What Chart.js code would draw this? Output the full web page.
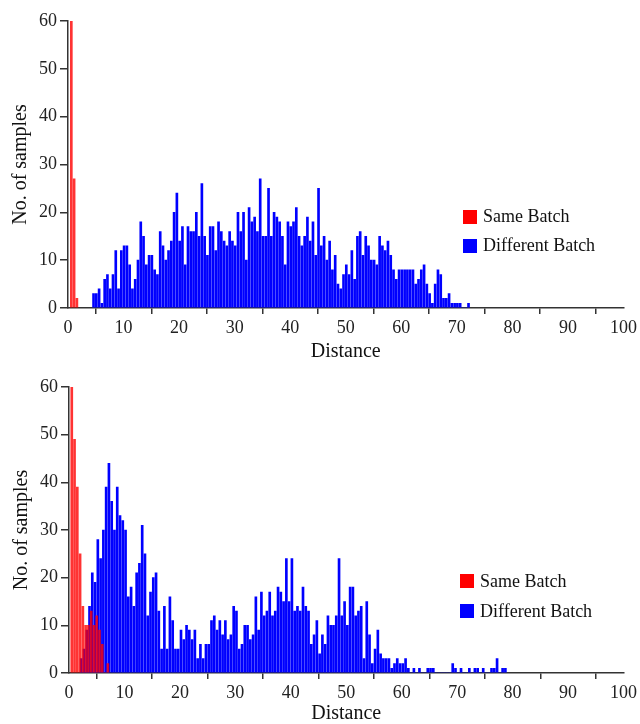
<!DOCTYPE html>
<html>
<head>
<meta charset="utf-8">
<script src="https://cdn.jsdelivr.net/npm/chart.js@4.4.0/dist/chart.umd.min.js"></script>
<style>
  body { margin: 0; background: #fff; }
  .panel { position: absolute; left: 0; width: 640px; height: 362px; }
  .legend { position: absolute; font-family: "Liberation Serif", "Times New Roman", serif; font-size: 18px; color: #111; }
  .legend div { height: 29px; display: flex; align-items: center; white-space: nowrap; }
  .legend .box { display: inline-block; width: 14px; height: 14px; margin-right: 6px; }
</style>
</head>
<body>
<div class="panel" style="top:0"><canvas id="topChart" width="640" height="362"></canvas></div>
<div class="panel" style="top:362px"><canvas id="bottomChart" width="640" height="362"></canvas></div>

<div class="legend" style="left:463px; top:202px">
  <div><span class="box" style="background:#ff0000"></span>Same Batch</div>
  <div><span class="box" style="background:#0000ff"></span>Different Batch</div>
</div>
<div class="legend" style="left:460px; top:566px">
  <div style="height:30px"><span class="box" style="background:#ff0000"></span>Same Batch</div>
  <div style="height:30px"><span class="box" style="background:#0000ff"></span>Different Batch</div>
</div>

<script>
// histogram bins are 0.5 wide
const binStep = 0.5;

// top panel
const topRedStart = 0.6;
const topRed = [60, 27, 2];
const topBlueStart = 4.6;
const topBlue = [
  3, 3, 4, 1, 6, 7, 4, 7, 12, 4,
  12, 13, 13, 9, 4, 6, 10, 18, 15, 9,
  11, 11, 8, 7, 16, 13, 10, 12, 14, 20,
  24, 14, 17, 9, 17, 16, 16, 20, 15, 26,
  15, 11, 17, 17, 12, 18, 16, 14, 13, 16,
  14, 13, 20, 16, 20, 10, 21, 18, 19, 16,
  27, 15, 15, 25, 15, 20, 19, 18, 15, 9,
  18, 17, 18, 21, 15, 13, 15, 19, 14, 18,
  11, 25, 13, 15, 10, 14, 8, 11, 5, 4,
  7, 9, 7, 12, 6, 15, 16, 11, 15, 13,
  10, 10, 9, 15, 13, 12, 14, 11, 8, 6,
  8, 8, 8, 8, 8, 8, 5, 6, 8, 9,
  5, 3, 1, 5, 8, 7, 2, 2, 3, 1,
  1, 1, 1, 0, 0, 1
];

// bottom panel
const bottomRedStart = 0.5;
const bottomRed = [60, 49, 39, 25, 14, 10, 10, 13, 10, 12, 9, 6, 0, 2];
const bottomBlueStart = 2.2;
const bottomBlue = [
  3, 5, 9, 14, 21, 19, 28, 24, 30, 39,
  44, 36, 30, 39, 33, 32, 30, 16, 18, 14,
  21, 23, 31, 25, 12, 17, 20, 21, 13, 5,
  14, 5, 16, 11, 5, 5, 9, 7, 10, 9,
  7, 9, 3,
  6, 3, 6, 6, 11, 12, 9, 11, 8, 11,
  7, 8, 14, 13, 5, 6, 10, 10, 7, 8,
  16, 9, 17, 12, 13, 17, 12, 13, 18, 17,
  15, 24, 15, 24, 13, 14, 13, 18, 14, 13,
  6, 8, 11, 4, 8, 6, 12, 10, 10, 12,
  24, 12, 15, 10, 18, 18, 12, 13, 14, 3,
  15, 8, 2, 5, 9, 4, 3, 3,
  3, 1, 2, 3, 2, 2, 3, 1, 0, 1,
  0, 1, 0, 0, 1, 1, 1, 0, 0, 0,
  0, 0, 0, 2, 1, 0, 1, 0, 0, 1,
  0, 1, 1, 0, 1, 0, 0, 1, 1, 3,
  0, 1, 1
];

const xTicks = { min: 0, max: 100, step: 10 };
const yTicks = { min: 0, max: 60, step: 10 };

const serif = "'Liberation Serif', 'Times New Roman', serif";

function toPoints(start, values) {
  return values.map((v, i) => ({ x: start + i * binStep, y: v }));
}

function makeChart(id, redStart, red, blueStart, blue, padTop, padLeft, xHeight) {
  const ctx = document.getElementById(id).getContext("2d");
  return new Chart(ctx, {
    type: "bar",
    data: {
      datasets: [
        { label: "Same Batch", data: toPoints(redStart, red), backgroundColor: "rgba(255,0,0,0.8)" },
        { label: "Different Batch", data: toPoints(blueStart, blue), backgroundColor: "#0000ff" },
      ],
    },
    options: {
      responsive: false,
      animation: false,
      layout: { padding: { top: padTop, right: 15, left: padLeft, bottom: 0 } },
      datasets: { bar: { grouped: false, barThickness: 2, borderWidth: 0 } },
      plugins: { legend: { display: false }, tooltip: { enabled: false } },
      scales: {
        x: {
          type: "linear",
          offset: false,
          min: xTicks.min,
          max: xTicks.max,
          ticks: { stepSize: xTicks.step, color: "#222", padding: 3, font: { family: serif, size: 18 } },
          grid: { drawOnChartArea: false, tickLength: 6, color: "#333", lineWidth: 1.5 },
          border: { color: "#333", width: 1.5 },
          title: { display: true, text: "Distance", color: "#111", padding: 0, font: { family: serif, size: 20, lineHeight: 1 } },
          afterFit: (s) => { s.height = xHeight; },
        },
        y: {
          min: yTicks.min,
          max: yTicks.max,
          ticks: { stepSize: yTicks.step, color: "#222", padding: 3, font: { family: serif, size: 18 } },
          grid: { drawOnChartArea: false, tickLength: 8, color: "#333", lineWidth: 1.5 },
          border: { color: "#333", width: 1.5 },
          title: { display: true, text: "No. of samples", color: "#111", padding: { top: 11, bottom: 0 }, font: { family: serif, size: 20, lineHeight: 1 } },
          afterFit: (s) => { s.width = 68; },
        },
      },
    },
  });
}

makeChart("topChart", topRedStart, topRed, topBlueStart, topBlue, 21, 0, 54);
makeChart("bottomChart", bottomRedStart, bottomRed, bottomBlueStart, bottomBlue, 25, 1, 51);
</script>
</body>
</html>
